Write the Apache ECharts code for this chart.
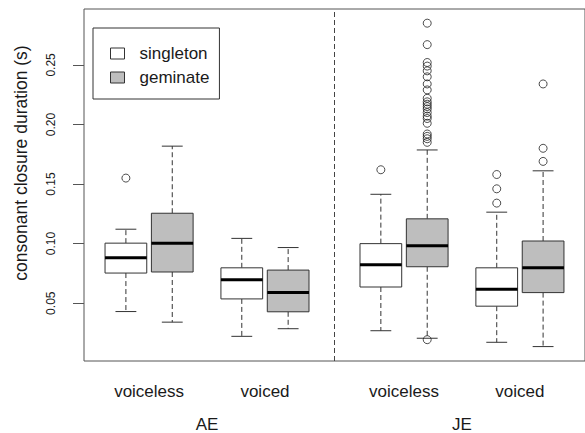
<!DOCTYPE html>
<html><head><meta charset="utf-8">
<script src="https://cdn.jsdelivr.net/npm/echarts@6/dist/echarts.min.js"></script>
<style>html,body{margin:0;padding:0;background:#fff}#c{width:585px;height:433px}</style>
</head><body><div id="c"></div>
<script>
// ---- data ----
const groupNames = ['AE', 'JE'];
const groupPos = [2.75, 8.25];
const voicingNames = ['voiceless', 'voiced', 'voiceless', 'voiced'];
const voicingPos = [1.5, 4, 7, 9.5];
const singletonPos = [1, 3.5, 6.5, 9];
const geminatePos = [2, 4.5, 7.5, 10];
// [lower whisker, Q1, median, Q3, upper whisker]
const singletonStats = [
  [0.0430, 0.0753, 0.0881, 0.1004, 0.1121],
  [0.0222, 0.0536, 0.0697, 0.0797, 0.1044],
  [0.0269, 0.0636, 0.0822, 0.1000, 0.1414],
  [0.0172, 0.0475, 0.0617, 0.0797, 0.1264]
];
const geminateStats = [
  [0.0341, 0.0762, 0.1004, 0.1255, 0.1818],
  [0.0286, 0.0428, 0.0589, 0.0778, 0.0967],
  [0.0206, 0.0806, 0.0983, 0.1208, 0.1786],
  [0.0136, 0.0589, 0.0797, 0.1022, 0.1611]
];
const singletonOutliers = [
  [0.155],
  [],
  [0.162],
  [0.158, 0.146, 0.134]
];
const geminateOutliers = [
  [],
  [],
  [0.285, 0.267, 0.252, 0.249, 0.245, 0.240, 0.234, 0.229, 0.222, 0.219, 0.217,
   0.215, 0.213, 0.210, 0.207, 0.205, 0.201, 0.192, 0.190, 0.188, 0.185, 0.0194],
  [0.234, 0.180, 0.169]
];
const yTicks = [0.05, 0.10, 0.15, 0.20, 0.25];
const dividerPos = 5.5;

// ---- build ----
const FONT = 'Liberation Sans, Arial, sans-serif';
const STROKE = '#333';
function boxData(pos, stats) {
  return pos.map((p, i) => [p].concat(stats[i]));
}
function outlierData(pos, outs) {
  const d = [];
  pos.forEach((p, i) => outs[i].forEach(v => d.push([p, v])));
  return d;
}
function boxRender(fill) {
  return function (params, api) {
    const x = api.value(0);
    const pLo = api.coord([x, api.value(1)]);
    const pQ1 = api.coord([x, api.value(2)]);
    const pMed = api.coord([x, api.value(3)]);
    const pQ3 = api.coord([x, api.value(4)]);
    const pHi = api.coord([x, api.value(5)]);
    const w = api.size([0.9, 0])[0];
    const cx = pMed[0];
    const dash = { stroke: STROKE, lineWidth: 1, lineDash: [5, 3] };
    const solid = { stroke: STROKE, lineWidth: 1 };
    return {
      type: 'group', children: [
        { type: 'line', shape: { x1: cx, y1: pQ3[1], x2: cx, y2: pHi[1] }, style: dash },
        { type: 'line', shape: { x1: cx, y1: pQ1[1], x2: cx, y2: pLo[1] }, style: dash },
        { type: 'line', shape: { x1: cx - w / 4, y1: pHi[1], x2: cx + w / 4, y2: pHi[1] }, style: solid },
        { type: 'line', shape: { x1: cx - w / 4, y1: pLo[1], x2: cx + w / 4, y2: pLo[1] }, style: solid },
        { type: 'rect', shape: { x: cx - w / 2, y: pQ3[1], width: w, height: pQ1[1] - pQ3[1] },
          style: { fill: fill, stroke: STROKE, lineWidth: 1 } },
        { type: 'line', shape: { x1: cx - w / 2, y1: pMed[1], x2: cx + w / 2, y2: pMed[1] },
          style: { stroke: '#000', lineWidth: 3 } }
      ]
    };
  };
}

const chart = echarts.init(document.getElementById('c'), null, { renderer: 'svg' });
const xBase = {
  type: 'value', min: 0.096, max: 10.904, gridIndex: 0, position: 'bottom',
  axisLine: { show: false }, axisTick: { show: false }, splitLine: { show: false }
};
chart.setOption({
  animation: false,
  backgroundColor: '#fff',
  grid: { left: 84, top: 9, width: 504.7, height: 353.3, show: true, borderColor: '#555', borderWidth: 1 },
  legend: {
    left: 93, top: 28, orient: 'vertical',
    data: ['singleton', 'geminate'],
    icon: 'rect', itemWidth: 14, itemHeight: 11, itemGap: 7,
    padding: [17, 10, 13, 17],
    borderColor: '#333', borderWidth: 1,
    itemStyle: { borderColor: STROKE, borderWidth: 1 },
    textStyle: { fontSize: 17, fontFamily: FONT, color: '#1a1a1a', padding: [0, 0, 0, 10] }
  },
  xAxis: [
    Object.assign({}, xBase, {
      axisLabel: {
        customValues: voicingPos, margin: 22, fontSize: 17, fontFamily: FONT, color: '#1a1a1a',
        formatter: v => { const i = voicingPos.findIndex(p => Math.abs(p - v) < 1e-6); return i >= 0 ? voicingNames[i] : ''; }
      }
    }),
    Object.assign({}, xBase, {
      axisLabel: {
        customValues: groupPos, margin: 55, fontSize: 17, fontFamily: FONT, color: '#1a1a1a',
        formatter: v => { const i = groupPos.findIndex(p => Math.abs(p - v) < 1e-6); return i >= 0 ? groupNames[i] : ''; }
      }
    })
  ],
  yAxis: {
    type: 'value', min: 0.0015, max: 0.2969,
    axisLine: { show: false },
    splitLine: { show: false },
    axisTick: { show: true, customValues: yTicks, length: 11, lineStyle: { color: '#555' } },
    axisLabel: {
      customValues: yTicks, rotate: 90, margin: 27, fontSize: 12, fontFamily: FONT, color: '#1a1a1a',
      formatter: v => v.toFixed(2)
    },
    name: 'consonant closure duration (s)', nameLocation: 'middle', nameRotate: 90, nameGap: 54,
    nameTextStyle: { fontSize: 17.5, fontFamily: FONT, color: '#1a1a1a', padding: [0, 0, 0, 44] }
  },
  series: [
    {
      name: 'singleton', type: 'custom', xAxisIndex: 0, renderItem: boxRender('#ffffff'),
      itemStyle: { color: '#ffffff', borderColor: STROKE, borderWidth: 1 },
      encode: { x: 0, y: [1, 2, 3, 4, 5] },
      data: boxData(singletonPos, singletonStats)
    },
    {
      name: 'geminate', type: 'custom', xAxisIndex: 0, renderItem: boxRender('#bebebe'),
      itemStyle: { color: '#bebebe', borderColor: STROKE, borderWidth: 1 },
      encode: { x: 0, y: [1, 2, 3, 4, 5] },
      data: boxData(geminatePos, geminateStats)
    },
    {
      type: 'scatter', xAxisIndex: 0, symbol: 'circle', symbolSize: 8,
      itemStyle: { color: 'rgba(255,255,255,0)', borderColor: '#222', borderWidth: 1 },
      data: outlierData(singletonPos, singletonOutliers).concat(outlierData(geminatePos, geminateOutliers)),
      markLine: {
        silent: true, symbol: 'none', label: { show: false },
        lineStyle: { type: [5, 3], color: '#444', width: 1 },
        data: [{ xAxis: dividerPos }]
      }
    }
  ]
});
</script></body></html>
